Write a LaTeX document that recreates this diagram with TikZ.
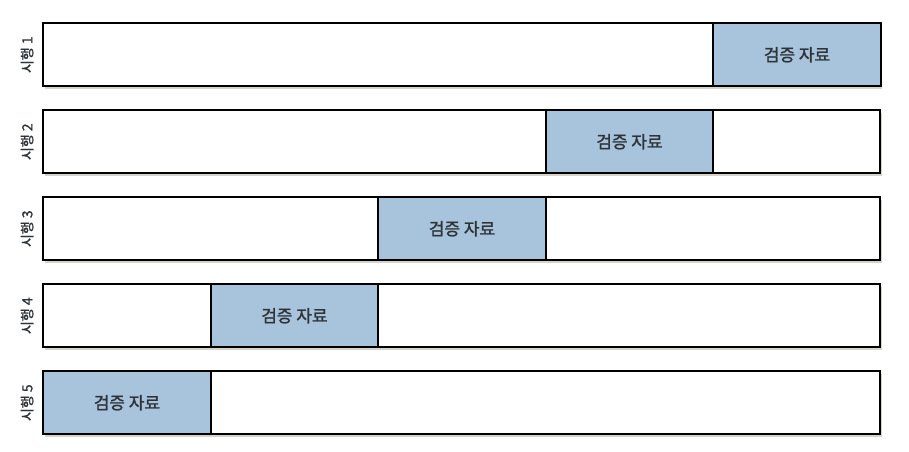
\documentclass[tikz,border=0pt]{standalone}
\usepackage{fontspec}
\usepackage{xcolor}
\usepackage{tikz}
\usetikzlibrary{positioning,shadows}
\newfontfamily\krfont[FakeBold=1.2]{Noto Sans CJK KR}
\definecolor{ink}{HTML}{2E3338}
\definecolor{valblue}{HTML}{A8C4DC}
\definecolor{shade}{HTML}{B8B8A8}
\tikzset{
  every node/.style={text=ink},
  fold/.style={draw=black,line width=2.4pt,fill=white,minimum width=837pt,minimum height=63pt,inner sep=0pt,
    drop shadow={shadow xshift=2pt,shadow yshift=-3pt,fill=shade,opacity=.6}},
  valid/.style={draw=black,line width=2.4pt,fill=valblue,minimum width=167.5pt,minimum height=63pt,inner sep=0pt,
    anchor=north west,font=\krfont\fontsize{17}{20}\selectfont},
  triallabel/.style={rotate=90,font=\krfont\fontsize{14}{16}\selectfont,left=5pt,anchor=south}
}
\begin{document}
\begin{tikzpicture}[x=1pt,y=-1pt,node distance=21.6pt]
  \useasboundingbox (0,0) rectangle (909,451);
  \node[fold,anchor=north west] (row1) at (42,22) {};
  \node[fold,below=of row1] (row2) {};
  \node[fold,below=of row2] (row3) {};
  \node[fold,below=of row3] (row4) {};
  \node[fold,below=of row4] (row5) {};

  \node[valid,xshift=670pt] (val1) at (row1.north west) {검증 자료};
  \node[valid,xshift=502.5pt] (val2) at (row2.north west) {검증 자료};
  \node[valid,xshift=335pt] (val3) at (row3.north west) {검증 자료};
  \node[valid,xshift=167.5pt] (val4) at (row4.north west) {검증 자료};
  \node[valid] (val5) at (row5.north west) {검증 자료};

  \node[triallabel] (lab1) at (row1.west) {시행 1};
  \node[triallabel] (lab2) at (row2.west) {시행 2};
  \node[triallabel] (lab3) at (row3.west) {시행 3};
  \node[triallabel] (lab4) at (row4.west) {시행 4};
  \node[triallabel] (lab5) at (row5.west) {시행 5};
\end{tikzpicture}
\end{document}
